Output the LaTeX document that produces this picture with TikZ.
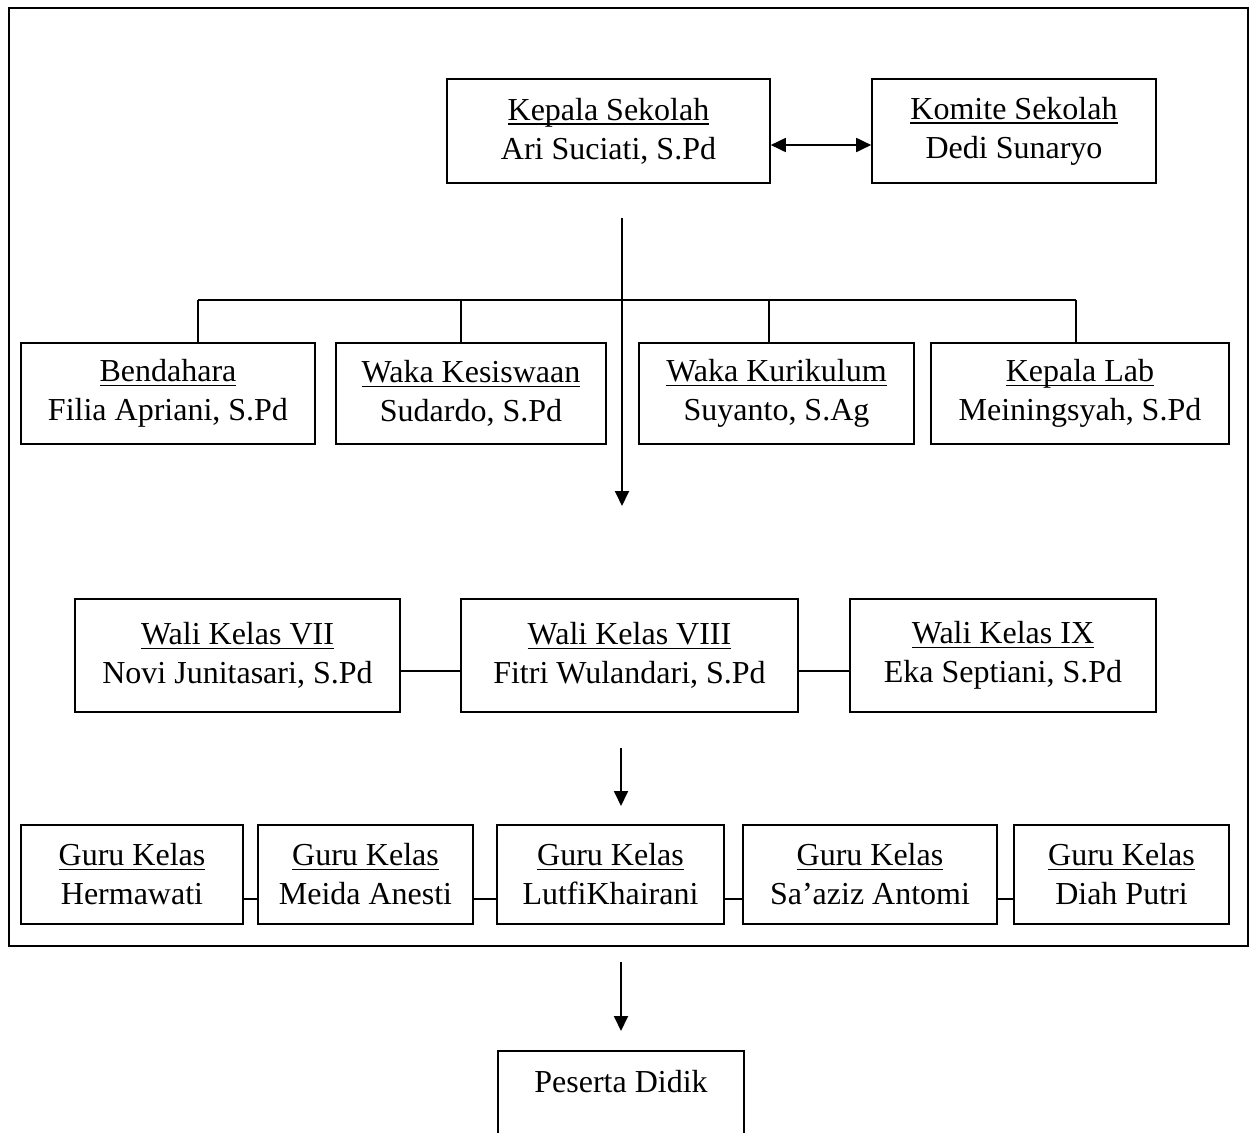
\documentclass[tikz,border=0pt]{standalone}
\usepackage{fontspec}
\setmainfont{Liberation Serif}
\usetikzlibrary{arrows.meta}
\newcommand\ulin[1]{\setbox0\hbox{#1}\rlap{\rule[-4.5pt]{\wd0}{1.6pt}}\box0}
\tikzset{
  box/.style={draw, line width=1.6pt, align=center, inner sep=0pt, font=\fontsize{32}{39}\selectfont},
  conn/.style={line width=1.6pt},
  arr/.style={line width=1.8pt, -{Triangle[length=15pt,width=14pt]}},
  darr/.style={line width=1.8pt, {Triangle[length=15pt,width=14pt]}-{Triangle[length=15pt,width=14pt]}},
  lbl/.style={inner sep=0pt, font=\fontsize{32}{39}\selectfont}
}
\begin{document}
\begin{tikzpicture}[x=1pt,y=-1pt]
\useasboundingbox (0,0) rectangle (1254,1133);
\clip (0,0) rectangle (1254,1133);
% outer frame
\draw[line width=1.6pt] (9,8) rectangle (1248,946);
% top
\node[box, minimum width=323pt, minimum height=104pt] (ks) at (608.5,131) {\ulin{Kepala Sekolah}\\Ari Suciati, S.Pd};
\node[box, minimum width=284pt, minimum height=104pt] (km) at (1014,131) {\ulin{Komite Sekolah}\\Dedi Sunaryo};
\draw[darr] ([yshift=-14pt]ks.east) -- ([yshift=-14pt]km.west);
% row 2
\node[box, minimum width=294pt, minimum height=101pt] (bd) at (168,393.5) {\ulin{Bendahara}\\Filia Apriani, S.Pd};
\node[box, minimum width=270pt, minimum height=101pt] (wks) at (471,393.5) {\ulin{Waka Kesiswaan}\\Sudardo, S.Pd};
\node[box, minimum width=275pt, minimum height=101pt] (wkk) at (776.5,393.5) {\ulin{Waka Kurikulum}\\Suyanto, S.Ag};
\node[box, minimum width=298pt, minimum height=101pt] (kl) at (1080,393.5) {\ulin{Kepala Lab}\\Meiningsyah, S.Pd};
\coordinate (b1) at (198,300);
\coordinate (b2) at (461,300);
\coordinate (b3) at (769,300);
\coordinate (b4) at (1076,300);
\draw[conn] (b1) -- (b4);
\draw[conn] (b1) -- (b1 |- bd.north);
\draw[conn] (b2) -- (b2 |- wks.north);
\draw[conn] (b3) -- (b3 |- wkk.north);
\draw[conn] (b4) -- (b4 |- kl.north);
\coordinate (a1s) at (622,218);
\coordinate (a1e) at (622,506);
\draw[arr] (a1s) -- (a1e);
% row 3
\node[box, minimum width=325pt, minimum height=113pt] (w7) at (237.5,655.5) {\ulin{Wali Kelas VII}\\Novi Junitasari, S.Pd};
\node[box, minimum width=337pt, minimum height=113pt] (w8) at (629.5,655.5) {\ulin{Wali Kelas VIII}\\Fitri Wulandari, S.Pd};
\node[box, minimum width=306pt, minimum height=113pt] (w9) at (1003,655.5) {\ulin{Wali Kelas IX}\\Eka Septiani, S.Pd};
\draw[conn] ([yshift=-15.5pt]w7.east) -- ([yshift=-15.5pt]w8.west);
\draw[conn] ([yshift=-15.5pt]w8.east) -- ([yshift=-15.5pt]w9.west);
\coordinate (a2s) at (621,748);
\coordinate (a2e) at (621,806);
\draw[arr] (a2s) -- (a2e);
% row 4
\node[box, minimum width=222pt, minimum height=99pt] (g1) at (132,874.5) {\ulin{Guru Kelas}\\Hermawati};
\node[box, minimum width=215pt, minimum height=99pt] (g2) at (365.5,874.5) {\ulin{Guru Kelas}\\Meida Anesti};
\node[box, minimum width=227pt, minimum height=99pt] (g3) at (610.5,874.5) {\ulin{Guru Kelas}\\LutfiKhairani};
\node[box, minimum width=254pt, minimum height=99pt] (g4) at (870,874.5) {\ulin{Guru Kelas}\\Sa’aziz Antomi};
\node[box, minimum width=215pt, minimum height=99pt] (g5) at (1121.5,874.5) {\ulin{Guru Kelas}\\Diah Putri};
\foreach \a/\b in {g1/g2,g2/g3,g3/g4,g4/g5}
  \draw[conn] ([yshift=-24.5pt]\a.east) -- ([yshift=-24.5pt]\b.west);
\coordinate (a3s) at (621,962);
\coordinate (a3e) at (621,1031);
\draw[arr] (a3s) -- (a3e);
% bottom
\node[box, minimum width=246pt, minimum height=140pt, anchor=north] (pd) at (621,1050) {};
\node[lbl, anchor=base] (pdt) at (621,1092) {Peserta Didik};
\end{tikzpicture}
\end{document}
